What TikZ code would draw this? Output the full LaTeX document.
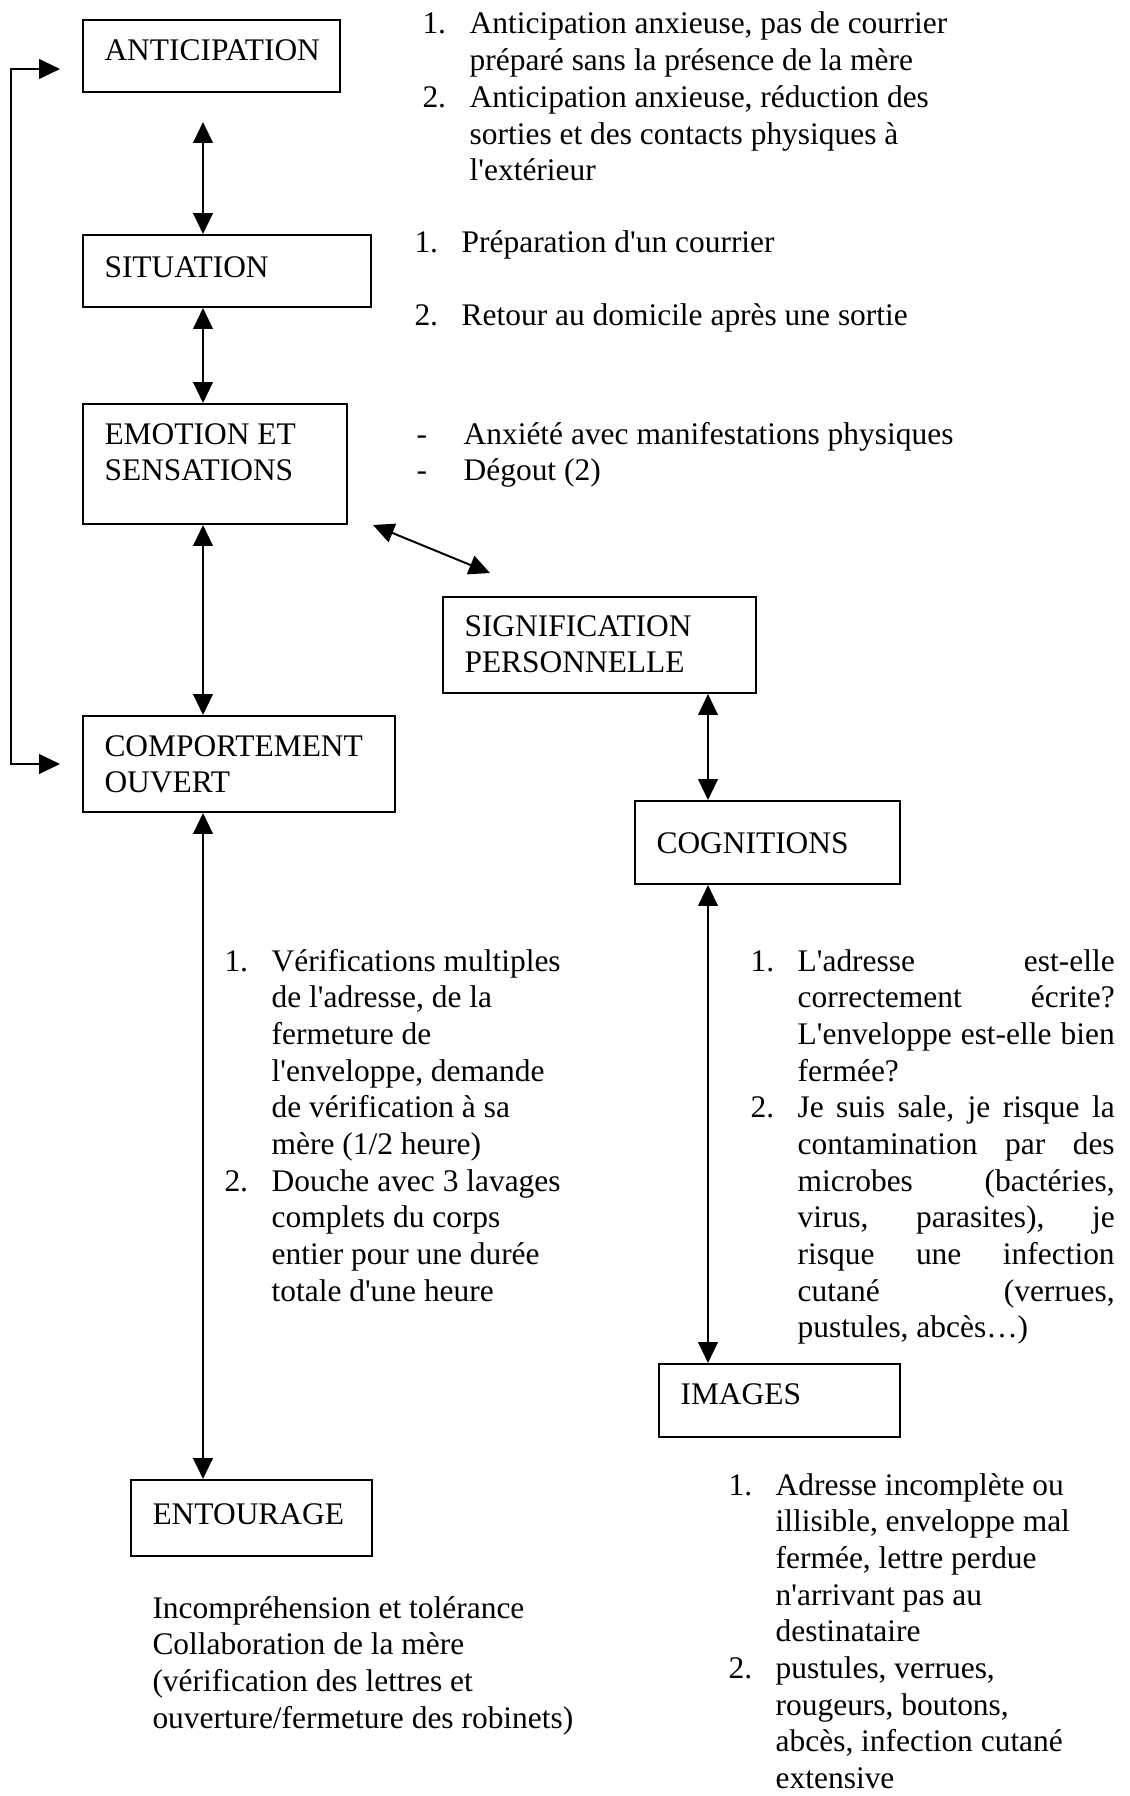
\documentclass[tikz,border=0pt]{standalone}
\usepackage{fontspec}
\newfontfamily\tnr{Liberation Serif}
\usetikzlibrary{arrows.meta,fit}

\newcommand{\jl}[1]{\makebox[121pt][s]{#1}}

\begin{document}
\begin{tikzpicture}[x=0.3817pt, y=-0.3817pt,
  font=\tnr\fontsize{12}{14}\selectfont,
  box/.style={draw, line width=0.75pt, inner sep=0pt},
  lbl/.style={anchor=base west, inner sep=0pt},
  dbl/.style={line width=0.75pt, {Triangle[length=8pt,width=7.5pt]}-{Triangle[length=8pt,width=7.5pt]}}]
\useasboundingbox (0,0) rectangle (1129,1796);

\node[box, fit={(83,20) (340,92)}] (antic) {};
\node[box, fit={(83,235) (371,307)}] (sit) {};
\node[box, fit={(83,404) (347,524)}] (emo) {};
\node[box, fit={(443,597) (756,693)}] (sig) {};
\node[box, fit={(83,716) (395,812)}] (comp) {};
\node[box, fit={(635,801) (900,884)}] (cog) {};
\node[box, fit={(659,1364) (900,1437)}] (img) {};
\node[box, fit={(131,1480) (372,1556)}] (ent) {};

\node[lbl] (anticlbl) at (104,60) {ANTICIPATION};
\node[lbl] (sitlbl) at (104,277) {SITUATION};
\node[lbl] (emolbl) at (104,444) {\begin{tabular}[t]{@{}l@{}}EMOTION ET\\ SENSATIONS\end{tabular}};
\node[lbl] (siglbl) at (464,636) {\begin{tabular}[t]{@{}l@{}}SIGNIFICATION\\ PERSONNELLE\end{tabular}};
\node[lbl] (complbl) at (104,756) {\begin{tabular}[t]{@{}l@{}}COMPORTEMENT\\ OUVERT\end{tabular}};
\node[lbl] (coglbl) at (656,853) {COGNITIONS};
\node[lbl] (imglbl) at (680,1404) {IMAGES};
\node[lbl] (entlbl) at (152,1524) {ENTOURAGE};

\node[lbl] (antictxt) at (422,34) {\begin{tabular}[t]{@{}p{18pt}@{}l@{}}
1. & Anticipation anxieuse, pas de courrier\\
   & préparé sans la présence de la mère\\
2. & Anticipation anxieuse, réduction des\\
   & sorties et des contacts physiques à\\
   & l'extérieur\end{tabular}};
\node[lbl] (sittxta) at (414,252) {\makebox[18pt][l]{1.}Préparation d'un courrier};
\node[lbl] (sittxtb) at (414,325) {\makebox[18pt][l]{2.}Retour au domicile après une sortie};
\node[lbl] (emotxt) at (416,444) {\begin{tabular}[t]{@{}p{18pt}@{}l@{}}
- & Anxiété avec manifestations physiques\\
- & Dégout (2)\end{tabular}};
\node[lbl] (comptxt) at (224,971) {\begin{tabular}[t]{@{}p{18pt}@{}l@{}}
1. & Vérifications multiples\\
   & de l'adresse, de la\\
   & fermeture de\\
   & l'enveloppe, demande\\
   & de vérification à sa\\
   & mère (1/2 heure)\\
2. & Douche avec 3 lavages\\
   & complets du corps\\
   & entier pour une durée\\
   & totale d'une heure\end{tabular}};
\node[lbl] (cogtxt) at (750,971) {\begin{tabular}[t]{@{}p{18pt}@{}l@{}}
1. & \jl{L'adresse est-elle}\\
   & \jl{correctement écrite?}\\
   & \jl{L'enveloppe est-elle bien}\\
   & fermée?\\
2. & \jl{Je suis sale, je risque la}\\
   & \jl{contamination par des}\\
   & \jl{microbes (bactéries,}\\
   & \jl{virus, parasites), je}\\
   & \jl{risque une infection}\\
   & \jl{cutané (verrues,}\\
   & pustules, abcès…)\end{tabular}};
\node[lbl] (enttxt) at (152,1618) {\begin{tabular}[t]{@{}l@{}}
Incompréhension et tolérance\\
Collaboration de la mère\\
(vérification des lettres et\\
ouverture/fermeture des robinets)\end{tabular}};
\node[lbl] (imgtxt) at (728,1495) {\begin{tabular}[t]{@{}p{18pt}@{}l@{}}
1. & Adresse incomplète ou\\
   & illisible, enveloppe mal\\
   & fermée, lettre perdue\\
   & n'arrivant pas au\\
   & destinataire\\
2. & pustules, verrues,\\
   & rougeurs, boutons,\\
   & abcès, infection cutané\\
   & extensive\end{tabular}};

\coordinate (colL) at (203,0);
\coordinate (colR) at (708,0);
\coordinate (anticTip) at (203,122);
\coordinate (emoTip) at (373,525);
\coordinate (sigTip) at (490,573);
\coordinate (fbA) at (60,69);
\coordinate (fbB) at (60,764);

\draw[dbl] (anticTip) -- (sit.north -| colL);
\draw[dbl] (sit.south -| colL) -- (emo.north -| colL);
\draw[dbl] (emo.south -| colL) -- (comp.north -| colL);
\draw[dbl] (comp.south -| colL) -- (ent.north -| colL);
\draw[dbl] (emoTip) -- (sigTip);
\draw[dbl] (sig.south -| colR) -- (cog.north -| colR);
\draw[dbl] (cog.south -| colR) -- (img.north -| colR);
\draw[dbl] (fbA) -- ++(-49,0) |- (fbB);
\end{tikzpicture}
\end{document}
